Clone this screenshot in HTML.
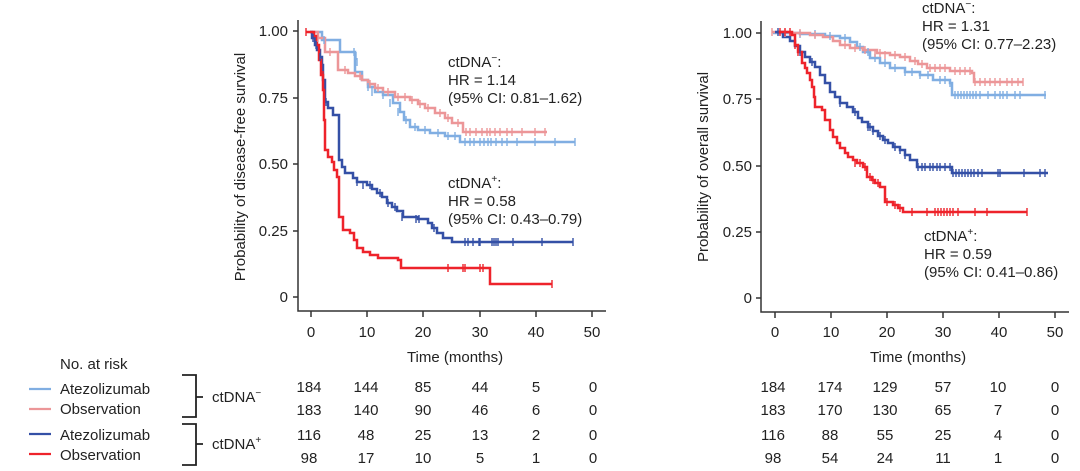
<!DOCTYPE html>
<html><head><meta charset="utf-8"><style>
html,body{margin:0;padding:0;background:#fff;}
svg{display:block;font-family:"Liberation Sans",Arial,sans-serif;}
</style></head><body>
<svg width="1080" height="471" viewBox="0 0 1080 471" xmlns="http://www.w3.org/2000/svg">
<rect width="1080" height="471" fill="#fff"/>
<!-- LEFT PLOT AXES -->
<g stroke="#333" stroke-width="1.5" fill="none">
<path d="M298,20 V311 H606"/>
<path d="M293,31 H298 M293,98 H298 M293,164 H298 M293,231 H298 M293,297 H298"/>
<path d="M311,311 V317 M367,311 V317 M423,311 V317 M480,311 V317 M536,311 V317 M592,311 V317"/>
</g>
<g font-size="15" fill="#222">
<g text-anchor="end">
<text x="288" y="36">1.00</text><text x="288" y="103">0.75</text><text x="288" y="169">0.50</text><text x="288" y="236">0.25</text><text x="288" y="302">0</text>
</g>
<g text-anchor="middle">
<text x="311" y="337">0</text><text x="367" y="337">10</text><text x="423" y="337">20</text><text x="480" y="337">30</text><text x="536" y="337">40</text><text x="592" y="337">50</text>
<text x="455" y="362">Time (months)</text>
<text transform="translate(245,167) rotate(-90)">Probability of disease-free survival</text>
</g>
<text x="448" y="67">ctDNA<tspan font-size="10" dy="-6">−</tspan><tspan dy="6">:</tspan></text>
<text x="448" y="85">HR = 1.14</text>
<text x="448" y="103">(95% CI: 0.81–1.62)</text>
<text x="448" y="188">ctDNA<tspan font-size="10" dy="-6">+</tspan><tspan dy="6">:</tspan></text>
<text x="448" y="206">HR = 0.58</text>
<text x="448" y="224">(95% CI: 0.43–0.79)</text>
</g>
<!-- LEFT CURVES -->
<g fill="none" stroke-width="2.5" stroke-linejoin="miter">
<path stroke="#80aee2" d="M310,32 H322 V40 H340 V52 H355 V72 H362 V80 H368 V87 H375 V92 H383 V95 H393 V103 H400 V112 H404 V120 H410 V127 H418 V130 H430 V133 H445 V136 H460 V142 H575"/>
<path stroke="#ec9698" d="M312,32 H318 V38 H325 V52 H338 V70 H348 V73 H355 V76 H362 V80 H368 V84 H375 V88 H383 V92 H395 V97 H410 V100 H418 V104 H425 V108 H435 V113 H445 V118 H452 V123 H463 V132 H547"/>
<path stroke="#3450a6" d="M310,32 H312 V38 H315 V45 H317 V50 H320 V57 H322 V65 H323 V80 H325 V102 H328 V108 H333 V115 H339 V160 H342 V167 H345 V173 H353 V178 H357 V182 H367 V185 H372 V189 H377 V193 H382 V197 H387 V203 H392 V207 H397 V211 H403 V217 H418 V219 H428 V223 H432 V228 H437 V233 H443 V238 H452 V242 H573"/>
<path stroke="#ee232b" d="M306,32 H314 V36 H317 V45 H319 V60 H321 V75 H323 V90 H324 V120 H325 V150 H328 V157 H332 V162 H334 V170 H337 V177 H339 V217 H343 V230 H350 V233 H354 V240 H357 V248 H363 V252 H370 V255 H378 V258 H398 V260 H401 V268 H490 V284 H552"/>
</g>
<g fill="none" stroke-width="1.4">
<path stroke="#80aee2" d="M324,36v8 M354,48v8 M356,52v8 M357,58v8 M368,83v8 M372,88v8 M383,91v8 M390,99v8 M398,108v8 M406,116v8 M415,123v8 M425,126v8 M438,129v8 M448,132v8 M455,132v8 M465,138v8 M470,138v8 M474,138v8 M480,138v8 M484,138v8 M488,138v8 M491,138v8 M496,138v8 M502,138v8 M507,138v8 M517,138v8 M535,138v8 M555,138v8 M575,138v8"/>
<path stroke="#ec9698" d="M318,34v8 M330,48v8 M345,66v8 M360,72v8 M370,80v8 M378,84v8 M388,88v8 M398,93v8 M405,93v8 M412,96v8 M420,100v8 M428,104v8 M440,109v8 M448,114v8 M458,119v8 M466,128v8 M470,128v8 M476,128v8 M482,128v8 M487,128v8 M490,128v8 M495,128v8 M500,128v8 M507,128v8 M512,128v8 M522,128v8 M535,128v8 M545,128v8"/>
<path stroke="#3450a6" d="M313,34v8 M316,41v8 M320,53v8 M326,98v8 M357,178v8 M363,181v8 M370,181v8 M380,189v8 M388,199v8 M395,203v8 M402,213v8 M416,215v8 M419,215v8 M434,224v8 M465,238v8 M468,238v8 M473,238v8 M479,238v8 M480,238v8 M492,238v8 M494,238v8 M496,238v8 M498,238v8 M513,238v8 M542,238v8 M573,238v8"/>
<path stroke="#ee232b" d="M306,28v8 M323,71v8 M448,264v8 M463,264v8 M465,264v8 M480,264v8 M483,264v8 M552,280v8"/>
</g>
<!-- RIGHT PLOT AXES -->
<g stroke="#333" stroke-width="1.5" fill="none">
<path d="M761,21 V312 H1069"/>
<path d="M756,33 H761 M756,99 H761 M756,166 H761 M756,232 H761 M756,298 H761"/>
<path d="M775,312 V318 M831,312 V318 M887,312 V318 M943,312 V318 M999,312 V318 M1055,312 V318"/>
</g>
<g font-size="15" fill="#222">
<g text-anchor="end">
<text x="752" y="38">1.00</text><text x="752" y="104">0.75</text><text x="752" y="171">0.50</text><text x="752" y="237">0.25</text><text x="752" y="303">0</text>
</g>
<g text-anchor="middle">
<text x="775" y="337">0</text><text x="831" y="337">10</text><text x="887" y="337">20</text><text x="943" y="337">30</text><text x="999" y="337">40</text><text x="1055" y="337">50</text>
<text x="918" y="362">Time (months)</text>
<text transform="translate(708,167) rotate(-90)">Probability of overall survival</text>
</g>
<text x="922" y="13">ctDNA<tspan font-size="10" dy="-6">−</tspan><tspan dy="6">:</tspan></text>
<text x="922" y="31">HR = 1.31</text>
<text x="922" y="49">(95% CI: 0.77–2.23)</text>
<text x="924" y="241">ctDNA<tspan font-size="10" dy="-6">+</tspan><tspan dy="6">:</tspan></text>
<text x="924" y="259">HR = 0.59</text>
<text x="924" y="277">(95% CI: 0.41–0.86)</text>
</g>
<!-- RIGHT CURVES -->
<g fill="none" stroke-width="2.5">
<path stroke="#80aee2" d="M773,33 H800 V34 H825 V36 H840 V38 H850 V42 H857 V47 H863 V52 H870 V58 H880 V63 H890 V68 H905 V72 H920 V75 H933 V80 H950 V83 H952 V95 H1046"/>
<path stroke="#ec9698" d="M772,32 H790 V33 H810 V35 H823 V37 H833 V41 H840 V45 H850 V48 H863 V50 H877 V53 H890 V55 H900 V57 H910 V61 H918 V64 H927 V68 H950 V71 H972 V73 H974 V82 H1023"/>
<path stroke="#3450a6" d="M775,32 H783 V37 H790 V41 H795 V46 H800 V52 H805 V57 H810 V62 H815 V67 H820 V75 H825 V83 H830 V92 H835 V97 H840 V103 H847 V107 H853 V112 H858 V118 H862 V122 H868 V127 H873 V131 H878 V136 H883 V140 H888 V143 H893 V147 H900 V150 H905 V155 H910 V160 H917 V167 H952 V173 H1048"/>
<path stroke="#ee232b" d="M778,32 H792 V35 H795 V45 H798 V52 H802 V63 H805 V68 H807 V73 H810 V80 H812 V87 H814 V97 H815 V107 H822 V110 H825 V120 H830 V130 H833 V137 H837 V143 H840 V148 H845 V153 H848 V157 H853 V160 H857 V163 H863 V167 H867 V177 H872 V180 H875 V183 H880 V187 H885 V202 H893 V205 H898 V208 H903 V212 H1027"/>
</g>
<g fill="none" stroke-width="1.4">
<path stroke="#80aee2" d="M800,30v8 M815,30v8 M830,32v8 M845,34v8 M860,43v8 M868,48v8 M875,54v8 M885,59v8 M895,64v8 M905,68v8 M912,68v8 M920,71v8 M928,71v8 M940,76v8 M945,76v8 M950,79v8 M955,91v8 M958,91v8 M961,91v8 M964,91v8 M967,91v8 M970,91v8 M973,91v8 M976,91v8 M980,91v8 M988,91v8 M995,91v8 M1000,91v8 M1003,91v8 M1007,91v8 M1015,91v8 M1020,91v8 M1045,91v8"/>
<path stroke="#ec9698" d="M772,28v8 M785,29v8 M800,29v8 M815,31v8 M845,41v8 M855,44v8 M865,46v8 M875,49v8 M880,49v8 M885,51v8 M895,51v8 M905,53v8 M915,57v8 M922,60v8 M930,64v8 M935,64v8 M940,64v8 M945,64v8 M955,67v8 M960,67v8 M965,67v8 M970,67v8 M975,78v8 M980,78v8 M985,78v8 M990,78v8 M995,78v8 M1000,78v8 M1007,78v8 M1012,78v8 M1018,78v8 M1023,78v8"/>
<path stroke="#3450a6" d="M778,28v8 M800,48v8 M812,58v8 M840,99v8 M855,108v8 M868,123v8 M870,123v8 M873,127v8 M880,132v8 M885,136v8 M895,143v8 M900,146v8 M905,151v8 M918,163v8 M922,163v8 M925,163v8 M930,163v8 M933,163v8 M937,163v8 M940,163v8 M945,163v8 M950,163v8 M953,169v8 M956,169v8 M959,169v8 M962,169v8 M965,169v8 M968,169v8 M971,169v8 M974,169v8 M978,169v8 M982,169v8 M998,169v8 M1000,169v8 M1024,169v8 M1040,169v8 M1045,169v8"/>
<path stroke="#ee232b" d="M780,28v8 M785,28v8 M790,28v8 M795,41v8 M798,48v8 M855,159v8 M860,159v8 M865,163v8 M870,173v8 M873,176v8 M878,179v8 M887,198v8 M895,201v8 M900,204v8 M912,208v8 M927,208v8 M935,208v8 M938,208v8 M941,208v8 M944,208v8 M947,208v8 M950,208v8 M953,208v8 M958,208v8 M975,208v8 M987,208v8 M1027,208v8"/>
</g>
<!-- RISK TABLE -->
<g font-size="15" fill="#222">
<text x="60" y="369">No. at risk</text>
<text x="60" y="394">Atezolizumab</text>
<text x="60" y="414">Observation</text>
<text x="60" y="440">Atezolizumab</text>
<text x="60" y="460">Observation</text>
<text x="212" y="402">ctDNA<tspan font-size="10" dy="-6">−</tspan></text>
<text x="212" y="449">ctDNA<tspan font-size="10" dy="-6">+</tspan></text>
<g text-anchor="middle">
<text x="309" y="392">184</text><text x="366" y="392">144</text><text x="423" y="392">85</text><text x="480" y="392">44</text><text x="536" y="392">5</text><text x="593" y="392">0</text>
<text x="309" y="415">183</text><text x="366" y="415">140</text><text x="423" y="415">90</text><text x="480" y="415">46</text><text x="536" y="415">6</text><text x="593" y="415">0</text>
<text x="309" y="440">116</text><text x="366" y="440">48</text><text x="423" y="440">25</text><text x="480" y="440">13</text><text x="536" y="440">2</text><text x="593" y="440">0</text>
<text x="309" y="463">98</text><text x="366" y="463">17</text><text x="423" y="463">10</text><text x="480" y="463">5</text><text x="536" y="463">1</text><text x="593" y="463">0</text>
<text x="773" y="392">184</text><text x="830" y="392">174</text><text x="885" y="392">129</text><text x="943" y="392">57</text><text x="998" y="392">10</text><text x="1055" y="392">0</text>
<text x="773" y="415">183</text><text x="830" y="415">170</text><text x="885" y="415">130</text><text x="943" y="415">65</text><text x="998" y="415">7</text><text x="1055" y="415">0</text>
<text x="773" y="440">116</text><text x="830" y="440">88</text><text x="885" y="440">55</text><text x="943" y="440">25</text><text x="998" y="440">4</text><text x="1055" y="440">0</text>
<text x="773" y="463">98</text><text x="830" y="463">54</text><text x="885" y="463">24</text><text x="943" y="463">11</text><text x="998" y="463">1</text><text x="1055" y="463">0</text>
</g>
</g>
<g stroke-width="2.2" fill="none">
<path stroke="#80aee2" d="M29,389 H51"/>
<path stroke="#ec9698" d="M29,409 H51"/>
<path stroke="#3450a6" d="M29,434 H51"/>
<path stroke="#ee232b" d="M29,454 H51"/>
</g>
<g stroke="#222" stroke-width="1.8" fill="none">
<path d="M182,375 H196 V417 H182 M196,397 H203"/>
<path d="M182,424 H196 V465 H182 M196,444 H203"/>
</g>
</svg>
</body></html>
